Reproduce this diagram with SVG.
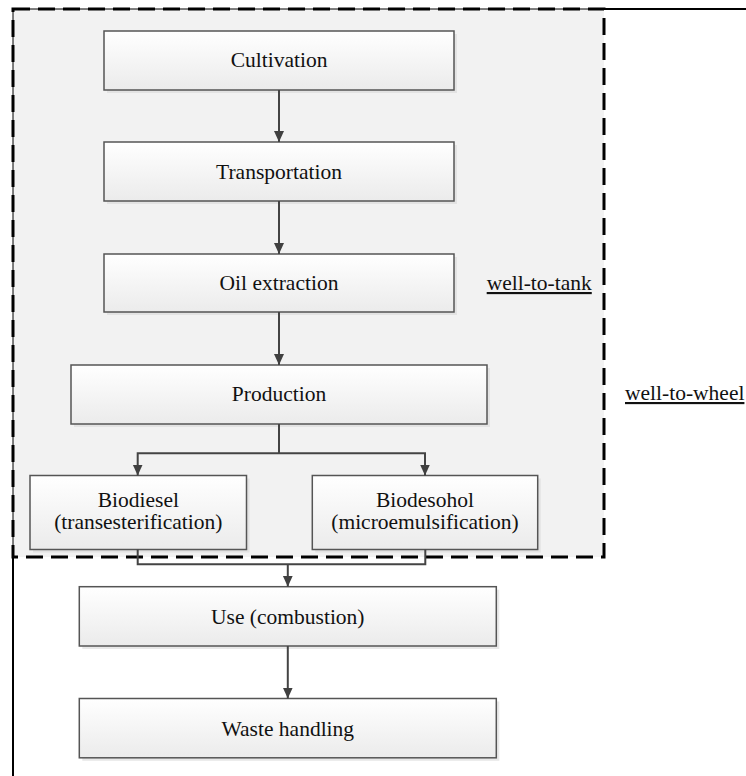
<svg xmlns="http://www.w3.org/2000/svg" width="746" height="776" viewBox="0 0 746 776">
<defs>
<linearGradient id="g" x1="0" y1="0" x2="0" y2="1">
<stop offset="0" stop-color="#ffffff"/>
<stop offset="1" stop-color="#ebebeb"/>
</linearGradient>
<marker id="ah" markerUnits="userSpaceOnUse" markerWidth="12" markerHeight="12" viewBox="0 0 12 12" refX="11" refY="6" orient="auto">
<path d="M0,1 L11,6 L0,11 Z" fill="#404040"/>
</marker>
</defs>
<style>
.box{fill:url(#g);stroke:#555;stroke-width:1.5}
.sh{fill:#d9d9d9;opacity:0.6}
text{font-family:"Liberation Serif","Times New Roman",Tinos,"DejaVu Serif","Noto Serif","Nimbus Roman",FreeSerif,serif;font-size:21.5px;fill:#111}
.t{text-anchor:middle}
.lbl{text-decoration:underline}
.c{fill:none;stroke:#444;stroke-width:2}
</style>
<rect x="0" y="0" width="746" height="776" fill="#ffffff"/>
<g id="well-to-tank-region">
<rect x="13" y="9" width="591" height="548" fill="#f2f2f2" stroke="#000" stroke-width="3" stroke-dasharray="17,8"/>
</g>
<g id="well-to-wheel-region">
<path d="M13,557 V790 M604,9 H760" fill="none" stroke="#000" stroke-width="2"/>
<path d="M13,9 V557 M13,9 H604" fill="none" stroke="#000" stroke-width="1"/>
</g>
<g id="cultivation">
<rect class="sh" x="107" y="34" width="350" height="59"/>
<rect class="box" x="104" y="31" width="350" height="59"/>
<text class="t" x="279" y="67">Cultivation</text>
</g>
<g id="transportation">
<rect class="sh" x="107" y="145" width="350" height="59"/>
<rect class="box" x="104" y="142" width="350" height="59"/>
<text class="t" x="279" y="178.5">Transportation</text>
</g>
<g id="oil-extraction">
<rect class="sh" x="107" y="257" width="350" height="58"/>
<rect class="box" x="104" y="254" width="350" height="58"/>
<text class="t" x="279" y="290">Oil extraction</text>
</g>
<g id="production">
<rect class="sh" x="74" y="368" width="416" height="59"/>
<rect class="box" x="71" y="365" width="416" height="59"/>
<text class="t" x="279" y="401">Production</text>
</g>
<g id="biodiesel">
<rect class="sh" x="33" y="478.5" width="216.5" height="74"/>
<rect class="box" x="30" y="475.5" width="216.5" height="74"/>
<text class="t" x="138.3" y="506.5">Biodiesel</text>
<text class="t" x="138.3" y="529">(transesterification)</text>
</g>
<g id="biodesohol">
<rect class="sh" x="315.3" y="478.5" width="225.4" height="74"/>
<rect class="box" x="312.3" y="475.5" width="225.4" height="74"/>
<text class="t" x="425" y="506.5">Biodesohol</text>
<text class="t" x="425" y="529">(microemulsification)</text>
</g>
<g id="use">
<rect class="sh" x="82.3" y="589.7" width="417" height="59.3"/>
<rect class="box" x="79.3" y="586.7" width="417" height="59.3"/>
<text class="t" x="287.8" y="623.5">Use (combustion)</text>
</g>
<g id="waste-handling">
<rect class="sh" x="82.3" y="701.5" width="417" height="59.3"/>
<rect class="box" x="79.3" y="698.5" width="417" height="59.3"/>
<text class="t" x="287.8" y="736">Waste handling</text>
</g>
<g id="labels">
<text class="lbl" x="486.7" y="290">well-to-tank</text>
<text class="lbl" x="625" y="400">well-to-wheel</text>
</g>
<g id="connectors">
<path class="c" d="M279,90 V142" marker-end="url(#ah)"/>
<path class="c" d="M279,201 V254" marker-end="url(#ah)"/>
<path class="c" d="M279,312 V365" marker-end="url(#ah)"/>
<path class="c" d="M279,424 V453.3"/>
<path class="c" d="M279,453.3 H137.7 V475.5" marker-end="url(#ah)"/>
<path class="c" d="M279,453.3 H425 V475.5" marker-end="url(#ah)"/>
<path class="c" d="M137.7,549.5 V564.3 H425.3 V549.5"/>
<path class="c" d="M287.8,564.3 V586.7" marker-end="url(#ah)"/>
<path class="c" d="M287.8,646 V698.5" marker-end="url(#ah)"/>
</g>
</svg>
